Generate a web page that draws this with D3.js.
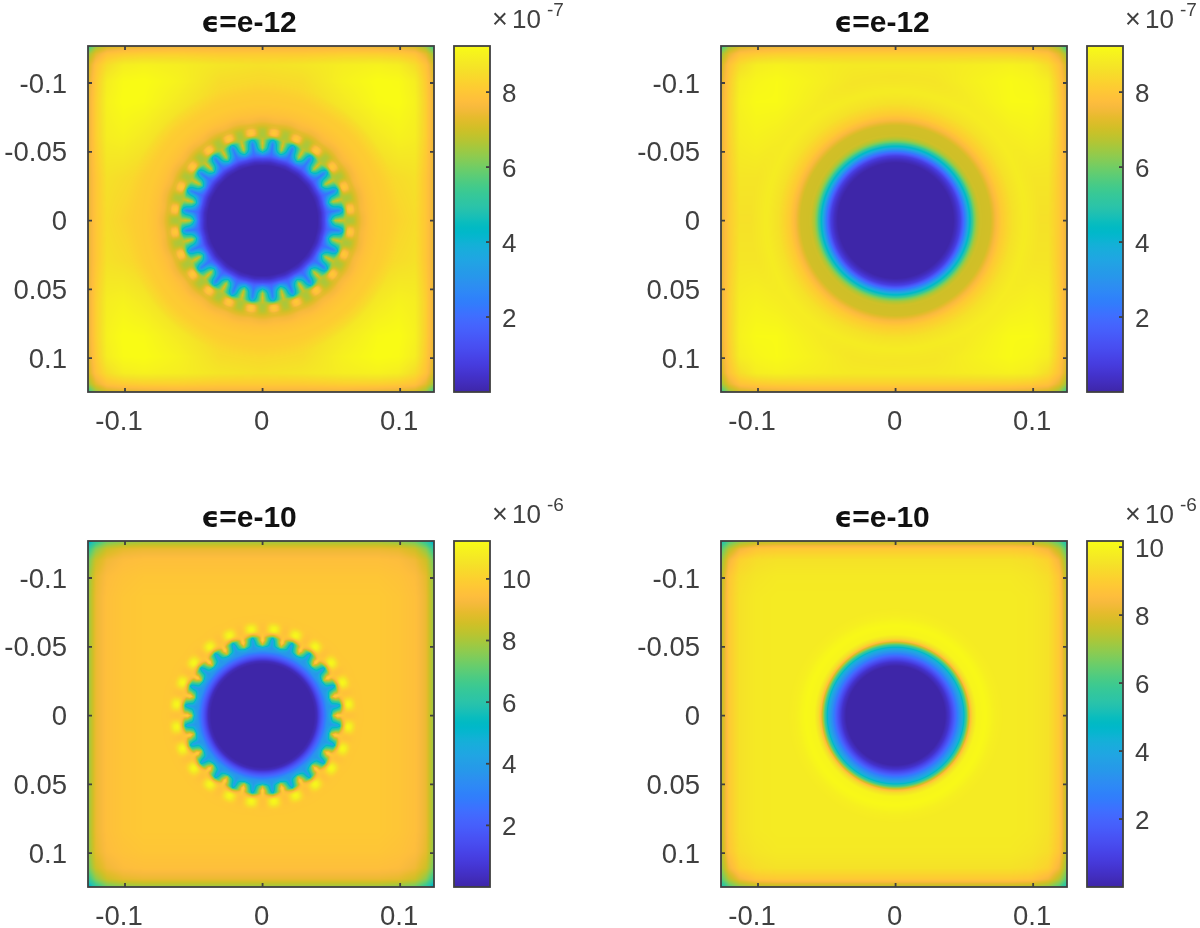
<!DOCTYPE html>
<html><head><meta charset="utf-8">
<script src="https://cdn.jsdelivr.net/npm/d3@7"></script>
<style>html,body{margin:0;padding:0;background:#fff;overflow:hidden}svg{display:block;filter:blur(0.55px)}text{font-family:"Liberation Sans",Arial,sans-serif;fill:#404040}</style>
</head><body><div id="chart"></div>
<script>
// MATLAB parula colormap rows
const parulaRows = [[.2422,.1504,.6603],[.2504,.1650,.7076],[.2578,.1818,.7511],[.2647,.1978,.7952],[.2706,.2147,.8364],[.2751,.2342,.8710],[.2783,.2559,.8991],[.2803,.2782,.9221],[.2813,.3006,.9414],[.2810,.3228,.9579],[.2795,.3447,.9717],[.2760,.3667,.9829],[.2699,.3892,.9906],[.2602,.4123,.9952],[.2440,.4358,.9988],[.2206,.4603,.9973],[.1963,.4847,.9892],[.1834,.5074,.9798],[.1786,.5289,.9682],[.1764,.5499,.9520],[.1687,.5703,.9359],[.1540,.5902,.9218],[.1460,.6091,.9079],[.1380,.6276,.8973],[.1248,.6459,.8883],[.1113,.6635,.8763],[.0952,.6798,.8598],[.0689,.6948,.8394],[.0297,.7082,.8163],[.0036,.7203,.7917],[.0067,.7312,.7660],[.0433,.7411,.7394],[.0964,.7500,.7120],[.1408,.7584,.6842],[.1717,.7670,.6554],[.1938,.7758,.6251],[.2161,.7843,.5923],[.2470,.7918,.5567],[.2906,.7973,.5188],[.3406,.8008,.4789],[.3909,.8029,.4354],[.4456,.8024,.3909],[.5044,.7993,.3480],[.5616,.7942,.3045],[.6174,.7876,.2612],[.6720,.7793,.2227],[.7242,.7698,.1910],[.7738,.7598,.1646],[.8203,.7498,.1535],[.8634,.7406,.1596],[.9035,.7330,.1774],[.9393,.7288,.2100],[.9728,.7298,.2394],[.9956,.7434,.2371],[.9970,.7659,.2199],[.9952,.7893,.2028],[.9892,.8136,.1885],[.9786,.8386,.1766],[.9676,.8639,.1643],[.9610,.8890,.1537],[.9597,.9135,.1423],[.9628,.9373,.1265],[.9691,.9606,.1064],[.9769,.9839,.0805]];

const axisDomain = [-0.1269, 0.1246];
const xTicks = [-0.1, 0, 0.1];
const yTicks = [-0.1, -0.05, 0, 0.05, 0.1];
const toothCount = 24;
const gridCoords = [0, .03, .06, .085, .1, .112, .12, .1258];

// Top-left panel (units 1e-7): values along a tooth and along a valley, by radius
const tlRadius  = [0, .040, .0425, .045, .047, .0495, .051, .053, .056, .0585, .0595, .0605, .062, .0635, .066, .0675, .0695, .072, .078, .085, .1];
const tlTip     = [0, 0, .3, 1.0, 1.7, 2.1, 2.2, 2.3, 2.6, 3.8, 5.3, 6.4, 7.7, 8.1, 7.9, 7.4, 7.3, 7.6, 7.9, 8.1, 8.2];
const tlValley  = [0, 0, .4, 1.1, 2.2, 4.2, 5.6, 6.8, 7.2, 7.0, 6.9, 6.7, 6.6, 6.6, 6.7, 6.9, 7.2, 7.5, 7.9, 8.1, 8.2];
const tlBackground = [
 [8.2,8.2,8.2,8.1,8.3,8.5,8.0,7.3],
 [8.2,8.2,8.2,8.3,8.5,8.6,8.0,7.3],
 [8.2,8.2,8.3,8.8,9.0,8.9,8.2,7.3],
 [8.1,8.3,8.8,9.2,9.25,9.0,8.2,7.3],
 [8.4,8.5,9.0,9.25,9.2,8.9,8.1,7.2],
 [8.6,8.7,8.9,9.0,8.9,8.5,7.9,7.0],
 [8.1,8.1,8.2,8.2,8.1,7.9,7.3,6.4],
 [7.4,7.4,7.4,7.3,7.2,7.0,6.4,5.2]];

// Top-right panel (units 1e-7)
const trRadius = [0, .042, .0445, .047, .049, .051, .053, .055, .057, .059, .0615, .069, .0727, .077, .085, .095, .105];
const trValue  = [0, 0, .3, .8, 1.7, 2.7, 3.9, 4.8, 5.9, 6.6, 7.0, 7.05, 7.6, 8.1, 8.6, 8.9, 8.9];
const trBackground = [
 [8.5,8.5,8.5,8.5,8.6,8.6,8.1,7.3],
 [8.5,8.5,8.5,8.6,8.7,8.7,8.1,7.3],
 [8.5,8.5,8.6,8.9,9.0,8.9,8.2,7.3],
 [8.4,8.5,8.9,9.2,9.2,9.0,8.2,7.3],
 [8.6,8.7,9.0,9.2,9.1,8.9,8.1,7.2],
 [8.8,8.8,8.9,9.0,8.9,8.5,7.9,7.0],
 [8.2,8.2,8.2,8.2,8.1,7.9,7.3,6.4],
 [7.4,7.4,7.4,7.3,7.2,7.0,6.4,5.2]];

// Bottom-left panel (units 1e-6)
const blRadius = [0, .0375, .0395, .042, .045, .047, .0495, .0515, .0545, .0565, .058, .0595, .0608, .0622, .0648, .0665, .069, .075];
const blTip    = [0, 0, .3, 1.4, 2.7, 3.7, 3.8, 3.9, 4.0, 5.0, 8.0, 9.4, 10.6, 11.1, 11.1, 10.6, 9.8, 9.7];
const blValley = [0, 0, .3, 1.4, 2.7, 3.6, 5.0, 8.3, 10.2, 10.0, 9.8, 9.7, 9.6, 9.6, 9.6, 9.6, 9.7, 9.7];
const blBackground = [
 [9.8,9.8,9.8,9.8,9.7,9.5,9.0,7.7],
 [9.8,9.8,9.8,9.8,9.7,9.5,9.0,7.7],
 [9.8,9.8,9.8,9.8,9.7,9.5,9.0,7.7],
 [9.8,9.8,9.8,9.8,9.7,9.5,9.0,7.7],
 [9.7,9.7,9.7,9.7,9.6,9.4,8.9,7.6],
 [9.5,9.5,9.5,9.5,9.4,9.1,8.5,7.2],
 [9.0,9.0,9.0,9.0,8.9,8.5,7.6,6.2],
 [7.8,7.8,7.8,7.8,7.6,7.2,6.2,4.8]];

// Bottom-right panel (units 1e-6)
const brRadius = [0, .036, .039, .042, .044, .047, .049, .0515, .053, .0545, .056, .059, .065, .072, .08];
const brValue  = [0, 0, .5, 1.5, 2.3, 3.5, 4.3, 6.1, 7.5, 8.7, 9.4, 10.0, 10.1, 9.9, 9.75];
const brBackground = [
 [9.75,9.75,9.75,9.75,9.7,9.5,8.9,7.4],
 [9.75,9.75,9.75,9.75,9.7,9.5,8.9,7.4],
 [9.75,9.75,9.75,9.75,9.7,9.5,8.9,7.4],
 [9.75,9.75,9.75,9.75,9.7,9.5,8.9,7.4],
 [9.7,9.7,9.7,9.7,9.6,9.4,8.8,7.3],
 [9.5,9.5,9.5,9.5,9.4,9.1,8.3,6.9],
 [8.9,8.9,8.9,8.9,8.8,8.3,7.4,6.2],
 [7.4,7.4,7.4,7.4,7.3,6.9,6.2,5.0]];

const panels = [
 {left:88, top:46, title:"=e-12", exp:"-7", vmin:0, vmax:9.23, ticks:[2,4,6,8], radius:tlRadius, tip:tlTip, valley:tlValley, bg:tlBackground},
 {left:721,top:46, title:"=e-12", exp:"-7", vmin:0, vmax:9.23, ticks:[2,4,6,8], radius:trRadius, tip:trValue, valley:trValue, bg:trBackground},
 {left:88, top:541,title:"=e-10", exp:"-6", vmin:0, vmax:11.23,ticks:[2,4,6,8,10], radius:blRadius, tip:blTip, valley:blValley, bg:blBackground},
 {left:721,top:541,title:"=e-10", exp:"-6", vmin:0, vmax:10.18,ticks:[2,4,6,8,10], radius:brRadius, tip:brValue, valley:brValue, bg:brBackground}
];

const size = 346, barGap = 20, barWidth = 36, fontSize = 27.5, barFont = 26, frame = "#404040";
const parulaFrac = parulaRows.map((_, i) => i / (parulaRows.length - 1));
const rgbOf = r => `rgb(${r.map(c => Math.round(c * 255)).join(",")})`;
const parula = d3.scaleLinear().domain(parulaFrac).range(parulaRows.map(rgbOf)).clamp(true);
// straight-sided teeth near the disc, round dots beyond them
const dotBlend = d3.scaleLinear().domain([.0585, .0615]).range([0, 1]).clamp(true);
const dotSharpness = 1.2, toothSharpness = 1.0;

const svg = d3.select("#chart").append("svg").attr("width", 1200).attr("height", 928);
const defs = svg.append("defs");
const grad = defs.append("linearGradient").attr("id", "parulaGrad").attr("x1", 0).attr("x2", 0).attr("y1", 1).attr("y2", 0);
grad.selectAll("stop").data(parulaRows).join("stop")
  .attr("offset", (_, i) => parulaFrac[i]).attr("stop-color", rgbOf);

const gridIndex = d3.scaleLinear().domain(gridCoords).range(gridCoords.map((_, i) => i)).clamp(true);
function background(bg, ax, ay) {
  const fx = gridIndex(ax), fy = gridIndex(ay);
  const ix = Math.min(Math.floor(fx), gridCoords.length - 2), iy = Math.min(Math.floor(fy), gridCoords.length - 2);
  const tx = fx - ix, ty = fy - iy;
  return d3.interpolateNumber(
    d3.interpolateNumber(bg[iy][ix], bg[iy][ix + 1])(tx),
    d3.interpolateNumber(bg[iy + 1][ix], bg[iy + 1][ix + 1])(tx))(ty);
}

panels.forEach(p => {
  const x = d3.scaleLinear().domain(axisDomain).range([p.left, p.left + size]);
  const y = d3.scaleLinear().domain(axisDomain).range([p.top, p.top + size]);
  const tipAt = d3.scaleLinear().domain(p.radius).range(p.tip).clamp(true);
  const valleyAt = d3.scaleLinear().domain(p.radius).range(p.valley).clamp(true);
  const rEnd = p.radius[p.radius.length - 1];
  const blendAt = d3.scaleLinear().domain([rEnd - .012, rEnd]).range([0, 1]).clamp(true);
  const cv = d3.scaleLinear().domain([p.vmin, p.vmax]).range([0, 1]).clamp(true);
  const mid = (axisDomain[0] + axisDomain[1]) / 2;

  const canvas = document.createElement("canvas");
  canvas.width = size; canvas.height = size;
  const ctx = canvas.getContext("2d");
  for (let j = 0; j < size; j++) for (let i = 0; i < size; i++) {
    const dx = x.invert(p.left + i + .5), dy = y.invert(p.top + j + .5);
    const r = Math.hypot(dx, dy);
    const c = Math.cos(toothCount * Math.atan2(dy, dx));
    const tooth = Math.pow(Math.acos(c) / Math.PI, toothSharpness);
    const dot = Math.pow((1 - c) / 2, dotSharpness);
    const t = d3.interpolateNumber(tooth, dot)(dotBlend(r));
    const radial = d3.interpolateNumber(valleyAt(r), tipAt(r))(t);
    const bgv = background(p.bg, Math.abs(dx - mid), Math.abs(dy - mid));
    const w = blendAt(r);
    ctx.fillStyle = parula(cv(radial * (1 - w) + bgv * w));
    ctx.fillRect(i, j, 1, 1);
  }
  svg.append("image").attr("x", p.left).attr("y", p.top).attr("width", size).attr("height", size)
    .attr("href", canvas.toDataURL());

  const g = svg.append("g");
  g.append("rect").attr("x", p.left).attr("y", p.top).attr("width", size).attr("height", size)
    .attr("fill", "none").attr("stroke", frame).attr("stroke-width", 1.8);
  const tickLen = 4;
  g.selectAll(null).data(xTicks).join("path")
    .attr("d", d => `M${x(d)},${p.top}v${tickLen}M${x(d)},${p.top + size}v${-tickLen}`)
    .attr("stroke", frame).attr("stroke-width", 1.8);
  g.selectAll(null).data(yTicks).join("path")
    .attr("d", d => `M${p.left},${y(d)}h${tickLen}M${p.left + size},${y(d)}h${-tickLen}`)
    .attr("stroke", frame).attr("stroke-width", 1.8);
  g.selectAll(null).data(xTicks).join("text")
    .attr("x", d => x(d) + (d < 0 ? -6 : -1)).attr("y", p.top + size + 38).attr("text-anchor", "middle")
    .attr("font-size", fontSize).text(d => String(d));
  g.selectAll(null).data(yTicks).join("text")
    .attr("x", p.left - 21).attr("y", d => y(d) + 9.5).attr("text-anchor", "end")
    .attr("font-size", fontSize).text(d => String(d));

  const title = g.append("text").attr("x", p.left + 161).attr("y", p.top - 14).attr("text-anchor", "middle")
    .attr("font-size", 30).attr("font-weight", "bold").style("fill", "#111");
  title.append("tspan").style("font-family", "'DejaVu Sans'").attr("font-size", 28).text("\u03F5");
  title.append("tspan").text(p.title);

  // colour bar
  const bx = p.left + size + barGap;
  const cy = d3.scaleLinear().domain([p.vmin, p.vmax]).range([p.top + size, p.top]);
  g.append("rect").attr("x", bx).attr("y", p.top).attr("width", barWidth).attr("height", size)
    .attr("fill", "url(#parulaGrad)").attr("stroke", frame).attr("stroke-width", 1.8);
  g.selectAll(null).data(p.ticks).join("path")
    .attr("d", d => `M${bx + barWidth},${cy(d)}h${-tickLen}`)
    .attr("stroke", frame).attr("stroke-width", 1.8);
  g.selectAll(null).data(p.ticks).join("text")
    .attr("x", bx + barWidth + 12).attr("y", d => cy(d) + 9.5)
    .attr("font-size", barFont).text(d => String(d));

  const lx = bx + 36;
  g.append("text").attr("x", lx + 2).attr("y", p.top - 18).attr("font-size", 27).text("\u00D7");
  g.append("text").attr("x", lx + 22).attr("y", p.top - 18).attr("font-size", barFont).text("10");
  g.append("text").attr("x", lx + 57).attr("y", p.top - 30).attr("font-size", 19).text(p.exp);
});
</script></body></html>
